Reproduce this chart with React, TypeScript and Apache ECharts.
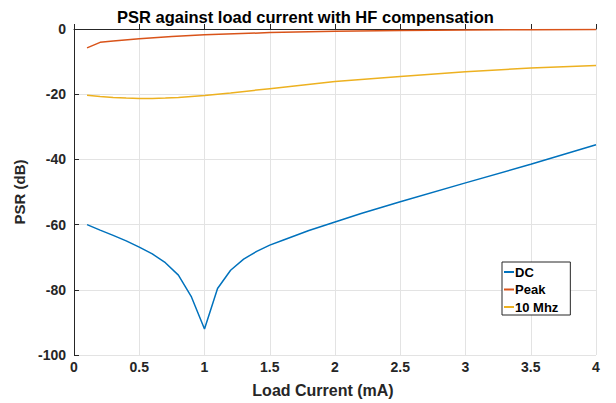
import React, { useEffect, useRef } from "react";
import * as echarts from "echarts";

const dcX = [0.1, 0.2, 0.3, 0.4, 0.5, 0.6, 0.7, 0.8, 0.9, 1.0, 1.1, 1.2, 1.3, 1.4, 1.5, 1.6, 1.8, 2.0, 2.2, 2.5, 3.0, 3.5, 4.0];
const dcY = [-60, -61.7, -63.3, -65, -66.9, -69, -71.7, -75.5, -82.2, -92, -79.6, -74, -70.6, -68.2, -66.3, -64.8, -61.8, -59.2, -56.6, -53, -47.2, -41.5, -35.5];

const peakX = [0.1, 0.2, 0.3, 0.5, 0.75, 1.0, 1.5, 2.0, 2.5, 3.0, 3.5, 4.0];
const peakY = [-5.8, -4.1, -3.7, -3.0, -2.3, -1.8, -1.1, -0.7, -0.45, -0.3, -0.2, -0.15];

const hfX = [0.1, 0.2, 0.3, 0.4, 0.5, 0.6, 0.7, 0.8, 0.9, 1.0, 1.2, 1.5, 2.0, 2.5, 3.0, 3.5, 4.0];
const hfY = [-20.3, -20.7, -21.0, -21.2, -21.3, -21.3, -21.2, -21.0, -20.7, -20.4, -19.6, -18.3, -16.1, -14.6, -13.1, -12.0, -11.2];

const seriesNames = ["DC", "Peak", "10 Mhz"];
const seriesColors = ["#0072BD", "#D95319", "#EDB120"];

const zip = (xs: number[], ys: number[]) => xs.map((x, i) => [x, ys[i]]);

const FONT = "Liberation Sans, Arial, sans-serif";

export default function App() {
  const ref = useRef<HTMLDivElement>(null);
  useEffect(() => {
    document.body.style.margin = "0";
    const chart = echarts.init(ref.current!, null, { renderer: "svg" });
    const axisLine = { show: true, lineStyle: { color: "#262626", width: 1 } };
    const data = [zip(dcX, dcY), zip(peakX, peakY), zip(hfX, hfY)];
    chart.setOption({
      animation: false,
      backgroundColor: "#ffffff",
      title: {
        text: "PSR against load current with HF compensation",
        left: 112,
        top: 3,
        textStyle: { fontFamily: FONT, fontSize: 16.5, fontWeight: "bold", color: "#000" },
      },
      grid: { left: 74, right: 20, top: 29, bottom: 47, containLabel: false },
      legend: {
        data: seriesNames,
        orient: "vertical",
        left: 502,
        top: 262,
        icon: "rect",
        itemWidth: 10,
        itemHeight: 2,
        itemGap: 3.5,
        padding: [3, 12, 1, 2],
        borderColor: "#262626",
        borderWidth: 1,
        backgroundColor: "#fff",
        textStyle: { fontFamily: FONT, fontSize: 13, lineHeight: 14, fontWeight: "bold", color: "#000", padding: [0, 0, 0, -4] },
      },
      xAxis: {
        type: "value",
        min: 0,
        max: 4,
        interval: 0.5,
        name: "Load Current (mA)",
        nameLocation: "middle",
        nameGap: 27,
        nameTextStyle: { fontFamily: FONT, fontSize: 16, fontWeight: "bold", color: "#262626", padding: [0, 24, 0, 0] },
        axisLine,
        axisTick: { show: true, inside: true, length: 5, lineStyle: { color: "#262626" } },
        axisLabel: { fontFamily: FONT, fontSize: 14, fontWeight: "bold", color: "#262626", margin: 5 },
        splitLine: { show: true, lineStyle: { color: "#e3e3e3", width: 1 } },
      },
      yAxis: {
        type: "value",
        min: -100,
        max: 0,
        interval: 20,
        name: "PSR (dB)",
        nameLocation: "middle",
        nameGap: 46,
        nameTextStyle: { fontFamily: FONT, fontSize: 15, fontWeight: "bold", color: "#262626" },
        axisLine,
        axisTick: { show: true, inside: true, length: 5, lineStyle: { color: "#262626" } },
        axisLabel: { fontFamily: FONT, fontSize: 14, fontWeight: "bold", color: "#262626", margin: 8 },
        splitLine: { show: true, lineStyle: { color: "#e3e3e3", width: 1 } },
      },
      series: seriesNames.map((name, i) => ({
        name,
        type: "line",
        data: data[i],
        showSymbol: false,
        symbol: "none",
        color: seriesColors[i],
        lineStyle: { width: 1.5, color: seriesColors[i] },
        z: 3,
      })),
    });
    return () => chart.dispose();
  }, []);
  return <div ref={ref} style={{ width: 616, height: 403 }} />;
}
